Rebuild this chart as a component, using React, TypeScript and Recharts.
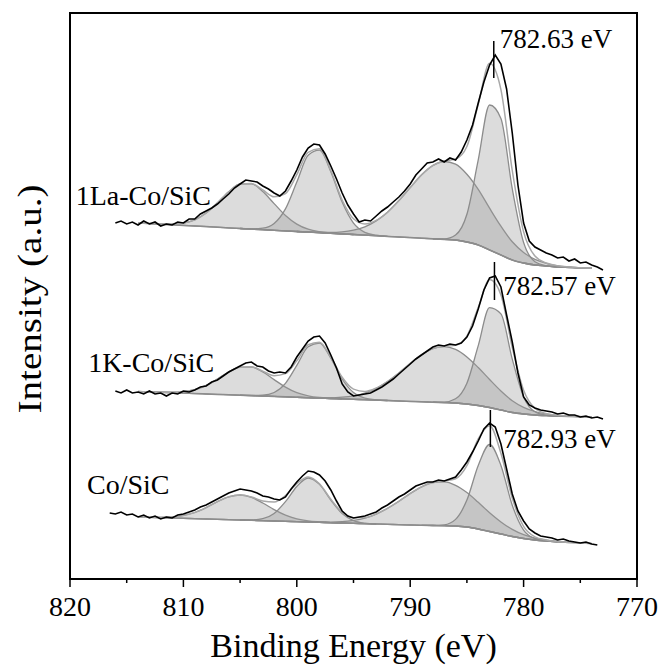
import React from 'react';
import { ComposedChart, Area, Line, XAxis, YAxis, ReferenceArea, ReferenceLine, ReferenceDot, Label } from 'recharts';

const FONT = '"Liberation Serif", "Times New Roman", serif';

// energies (eV) of the measured points and of the fit grid
const rawEnergy = Array.from({ length: 88 }, (_, i) => 816.5 - i * 0.5);
const fitEnergy = Array.from({ length: 41 }, (_, i) => 814 - i);
const xTicks = [820, 815, 810, 805, 800, 795, 790, 785, 780, 775, 770];

// measured spectra (a.u., already offset)
const raw1La = [null, 356, 358, 355, 357, 354, 358, 355, 357, 353, 355, 354, 357, 356, 360, 360, 365, 368, 371, 375, 380, 385, 391, 395, 399, 398, 397, 393, 390, 386, 383, 388, 398, 409, 422, 431, 435, 434, 425, 413, 400, 386, 374, 365, 357, 359, 358, 363, 368, 372, 377, 382, 388, 395, 404, 410, 416, 417, 420, 417, 421, 419, 427, 439, 454, 476, 497, 514, 524, 515, 490, 446, 394, 356, 338, 332, 329, 326, 324, 321, 322, 318, 320, 316, 317, 314, 312, 309];
const raw1K = [null, 188, 186, 189, 186, 187, 185, 188, 185, 186, 183, 186, 185, 188, 187, 189, 192, 193, 197, 199, 203, 207, 210, 213, 216, 217, 213, 212, 208, 206, 207, 206, 212, 222, 230, 238, 242, 243, 236, 224, 211, 195, 187, 183, 184, 185, 186, 189, 192, 196, 200, 205, 210, 215, 220, 224, 228, 232, 234, 233, 235, 234, 236, 242, 253, 270, 289, 301, 303, 292, 264, 237, 206, 182, 174, 171, 169, 168, 167, 165, 166, 164, 164, 162, 163, 161, 162, 160];
const rawCo = [66, 65, 67, 64, 65, 62, 64, 61, 63, 60, 62, 61, 64, 65, 67, 69, 72, 74, 77, 80, 83, 86, 88, 90, 89, 88, 86, 83, 82, 80, 79, 82, 90, 97, 103, 108, 107, 104, 98, 89, 78, 68, 63, 61, 62, 63, 65, 67, 71, 74, 78, 82, 85, 89, 93, 95, 97, 97, 99, 98, 100, 102, 109, 117, 127, 138, 150, 156, 152, 135, 110, 85, 68, 58, 50, 46, 43, 42, 41, 39, 40, 38, 37, 36, 37, 35, 34, null];

// Shirley backgrounds
const bg1La = [356, 355.4, 354.8, 354.2, 353.6, 353, 352.4, 351.8, 351.1, 350.5, 349.9, 349.3, 348.7, 348.1, 347.5, 346.9, 346.3, 345.7, 345.1, 344.5, 343.9, 343.3, 342.6, 342, 341.4, 340.8, 340.2, 339.6, 339, 337, 334, 329, 324, 319, 316, 314, 313, 312, 311.5, 311, 311];
const bg1K = [187.5, 187.1, 186.7, 186.3, 185.9, 185.4, 185, 184.6, 184.2, 183.8, 183.4, 183, 182.6, 182.2, 181.7, 181.3, 180.9, 180.5, 180.1, 179.7, 179.3, 178.9, 178.5, 178, 177.6, 177.2, 176.8, 176.4, 176, 175, 173.5, 171.5, 169, 166.5, 165, 164, 163.4, 163, 162.6, 162.3, 162];
const bgCo = [62, 61.7, 61.3, 61, 60.7, 60.3, 60, 59.7, 59.3, 59, 58.7, 58.3, 58, 57.7, 57.3, 57, 56.7, 56.3, 56, 55.7, 55.3, 55, 54.7, 54.3, 54, 53.7, 53.5, 53.3, 53, 52, 50, 47.5, 45, 42.5, 40.5, 39, 38, 37.2, 36.6, 36, 35.5];

// fitted components, height above background
const p1La1 = [0, 0, 0.2, 0.7, 2.4, 6.2, 13.5, 24.3, 36.1, 44.5, 45.3, 38.2, 26.7, 15.4, 7.4, 2.9, 1, 0.3, 0.1, 0, 0, 0, 0, 0, 0, 0, 0, 0, 0, 0, 0, 0, 0, 0, 0, 0, 0, 0, 0, 0, 0];
const p1La2 = [0, 0, 0, 0, 0, 0, 0, 0, 0, 0, 0.2, 1.5, 6.8, 22, 49.4, 76.8, 82.6, 61.6, 31.8, 11.4, 2.8, 0.5, 0, 0, 0, 0, 0, 0, 0, 0, 0, 0, 0, 0, 0, 0, 0, 0, 0, 0, 0];
const p1La3 = [0, 0, 0, 0, 0, 0, 0, 0, 0, 0, 0, 0, 0, 0, 0, 0.1, 0.3, 0.9, 2, 4.3, 8.3, 14.8, 24.2, 36.4, 50, 63.3, 73.3, 77.9, 75.9, 67.8, 55.6, 41.8, 28.8, 18.2, 10.6, 5.6, 2.7, 1.2, 0.5, 0.2, 0];
const p1La4 = [0, 0, 0, 0, 0, 0, 0, 0, 0, 0, 0, 0, 0, 0, 0, 0, 0, 0, 0, 0, 0, 0, 0, 0, 0, 0, 0, 0.5, 5, 27.7, 85.1, 145, 136.6, 71.3, 20.5, 3.3, 0.3, 0, 0, 0, 0];

const p1K1 = [0, 0, 0.1, 0.5, 1.5, 3.9, 8.5, 15.3, 22.8, 28, 28.6, 24.1, 16.8, 9.7, 4.6, 1.9, 0.6, 0.2, 0, 0, 0, 0, 0, 0, 0, 0, 0, 0, 0, 0, 0, 0, 0, 0, 0, 0, 0, 0, 0, 0, 0];
const p1K2 = [0, 0, 0, 0, 0, 0, 0, 0, 0, 0, 0.1, 0.8, 3.9, 13.5, 31.9, 50.9, 55, 40.3, 19.9, 6.7, 1.5, 0.2, 0, 0, 0, 0, 0, 0, 0, 0, 0, 0, 0, 0, 0, 0, 0, 0, 0, 0, 0];
const p1K3 = [0, 0, 0, 0, 0, 0, 0, 0, 0, 0, 0, 0, 0, 0, 0, 0.1, 0.3, 0.7, 1.7, 3.5, 6.7, 11.8, 19, 28, 38, 47.1, 53.6, 56, 53.6, 47.1, 38, 28, 19, 11.8, 6.7, 3.5, 1.7, 0.7, 0.3, 0.1, 0];
const p1K4 = [0, 0, 0, 0, 0, 0, 0, 0, 0, 0, 0, 0, 0, 0, 0, 0, 0, 0, 0, 0, 0, 0, 0, 0, 0, 0, 0, 0.5, 4.2, 20.8, 59.9, 99.9, 96.1, 53.4, 17.1, 3.2, 0.3, 0, 0, 0, 0];

const pCo1 = [0, 0.1, 0.4, 1.1, 2.9, 6.2, 11.4, 17.7, 22.9, 25, 22.9, 17.7, 11.4, 6.2, 2.9, 1.1, 0.4, 0.1, 0, 0, 0, 0, 0, 0, 0, 0, 0, 0, 0, 0, 0, 0, 0, 0, 0, 0, 0, 0, 0, 0, 0];
const pCo2 = [0, 0, 0, 0, 0, 0, 0, 0, 0, 0, 0.4, 2, 7.5, 19.6, 35.2, 44, 37.9, 22.7, 9.4, 2.7, 0.5, 0, 0, 0, 0, 0, 0, 0, 0, 0, 0, 0, 0, 0, 0, 0, 0, 0, 0, 0, 0];
const pCo3 = [0, 0, 0, 0, 0, 0, 0, 0, 0, 0, 0, 0, 0, 0, 0, 0, 0.2, 0.6, 1.3, 2.9, 5.6, 9.9, 16, 23.4, 31.5, 38.5, 43, 43.8, 40.7, 34.5, 26.7, 18.8, 12.1, 7.1, 3.8, 1.9, 0.9, 0.3, 0, 0, 0];
const pCo4 = [0, 0, 0, 0, 0, 0, 0, 0, 0, 0, 0, 0, 0, 0, 0, 0, 0, 0, 0, 0, 0, 0, 0, 0, 0, 0, 0.1, 0.9, 6.6, 26.9, 63.5, 87, 68.6, 31.3, 8.3, 1.3, 0.1, 0, 0, 0, 0];

const sampleNames = ['1La-Co/SiC', '1K-Co/SiC', 'Co/SiC'];
const peakEnergy = [782.63, 782.57, 782.93];
const peakText = ['782.63 eV', '782.57 eV', '782.93 eV'];

// annotation placement (data coords)
const spectra = [
  { raw: raw1La, bg: bg1La, peaks: [p1La1, p1La2, p1La3, p1La4], nameAt: [819.5, 384], mark: [501, 538], textAt: [782.1, 541] },
  { raw: raw1K, bg: bg1K, peaks: [p1K1, p1K2, p1K3, p1K4], nameAt: [818.4, 217], mark: [279, 317], textAt: [781.8, 294] },
  { raw: rawCo, bg: bgCo, peaks: [pCo1, pCo2, pCo3, pCo4], nameAt: [818.5, 95], mark: [132, 169], textAt: [781.8, 141] },
];

const toRaw = (vals) => rawEnergy.map((e, i) => ({ e, v: vals[i] })).filter((d) => d.v !== null);
const toLine = (vals) => fitEnergy.map((e, i) => ({ e, v: vals[i] }));
const toPeak = (bg, p) =>
  fitEnergy
    .map((e, i) => ({ e, r: [bg[i], bg[i] + p[i]], keep: p[i] > 0 || (p[i - 1] ?? 0) > 0 || (p[i + 1] ?? 0) > 0 }))
    .filter((d) => d.keep);
const toSum = (bg, peaks) => fitEnergy.map((e, i) => ({ e, v: bg[i] + peaks.reduce((s, p) => s + p[i], 0) }));

const XTick = (props) => {
  const { x, y, payload } = props;
  const major = payload.value % 10 === 0;
  const axisY = y - 17;
  return (
    <g>
      <line x1={x} x2={x} y1={axisY} y2={axisY + (major ? 8 : 4)} stroke="#000" strokeWidth={1.5} />
      {major && (
        <text x={x} y={y} dy="0.71em" textAnchor="middle" fontSize={28} fontFamily={FONT} fill="#000">
          {payload.value}
        </text>
      )}
    </g>
  );
};

export default function App() {
  // fixed to the page corner so the figure covers the whole 659x666 window without scrollbars
  return (
    <div style={{ position: 'fixed', left: 0, top: 0, width: 659, height: 666, overflow: 'hidden', background: '#fff' }}>
      <ComposedChart width={659} height={666} margin={{ top: 13, right: 22, bottom: 7, left: 70 }}>
        <XAxis
          dataKey="e"
          type="number"
          domain={[770, 820]}
          reversed
          ticks={xTicks}
          interval={0}
          allowDataOverflow
          tick={<XTick />}
          tickLine={false}
          tickSize={8}
          tickMargin={9}
          height={80}
          axisLine={{ stroke: '#000', strokeWidth: 2 }}
        >
          <Label value="Binding Energy (eV)" position="insideBottom" offset={2} fontSize={34} fontFamily={FONT} fill="#000" />
        </XAxis>
        <YAxis hide type="number" domain={[0, 566]} allowDataOverflow />
        <ReferenceArea x1={820} x2={770} y1={0} y2={566} fill="none" stroke="#000" strokeWidth={2} />

        {spectra.map((s, k) => (
          <React.Fragment key={k}>
            {s.peaks.map((p, j) => (
              <Area
                key={'p' + j}
                data={toPeak(s.bg, p)}
                dataKey="r"
                type="monotone"
                stroke="#8c8c8c"
                strokeWidth={1.3}
                fill="#9a9a9a"
                fillOpacity={0.35}
                dot={false}
                activeDot={false}
                isAnimationActive={false}
              />
            ))}
            <Line data={toLine(s.bg)} dataKey="v" type="monotone" stroke="#8c8c8c" strokeWidth={1.5} dot={false} isAnimationActive={false} />
            <Line data={toSum(s.bg, s.peaks)} dataKey="v" type="monotone" stroke="#a8a8a8" strokeWidth={1.5} dot={false} isAnimationActive={false} />
            <Line data={toRaw(s.raw)} dataKey="v" type="linear" stroke="#000" strokeWidth={1.6} dot={false} isAnimationActive={false} />
            <ReferenceLine
              segment={[{ x: peakEnergy[k], y: s.mark[0] }, { x: peakEnergy[k], y: s.mark[1] }]}
              stroke="#000"
              strokeWidth={1.5}
            />
            <ReferenceDot
              x={s.textAt[0]}
              y={s.textAt[1]}
              r={0}
              fill="none"
              stroke="none"
              label={{ value: peakText[k], position: 'right', offset: 0, fontSize: 27, fontFamily: FONT, fill: '#000' }}
            />
            <ReferenceDot
              x={s.nameAt[0]}
              y={s.nameAt[1]}
              r={0}
              fill="none"
              stroke="none"
              label={{ value: sampleNames[k], position: 'right', offset: 0, fontSize: 28, fontFamily: FONT, fill: '#000' }}
            />
          </React.Fragment>
        ))}
      </ComposedChart>
      <div
        style={{
          position: 'absolute',
          left: 30,
          top: 299,
          transform: 'translate(-50%, -50%) rotate(-90deg) scaleX(1.15)',
          fontFamily: FONT,
          fontSize: 34,
          lineHeight: 1,
          whiteSpace: 'nowrap',
          color: '#000',
        }}
      >
        Intensity (a.u.)
      </div>
    </div>
  );
}
